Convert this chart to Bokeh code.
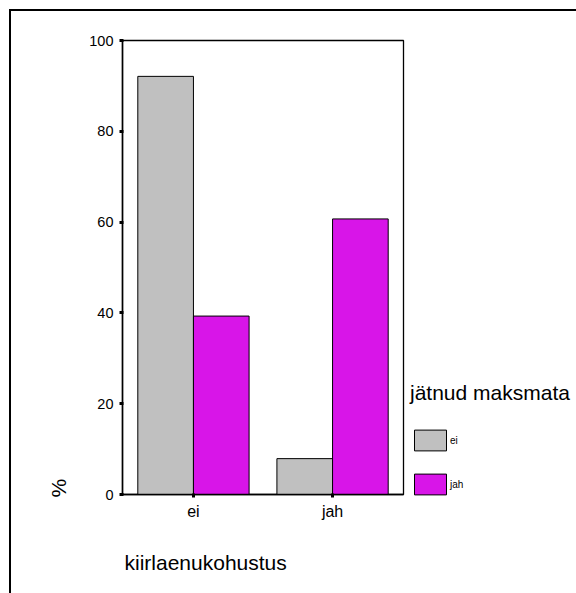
from bokeh.plotting import figure
from bokeh.models import (FactorRange, Range1d, ColumnDataSource, Legend, LegendItem,
                          FixedTicker, Title, InlineStyleSheet)
from bokeh.transform import dodge
from bokeh.embed import file_html
from bokeh.resources import INLINE

# ---- data ----
categories = ["ei", "jah"]          # kiirlaenukohustus
series_names = ["ei", "jah"]        # jätnud maksmata
values_ei = [92.1, 7.9]
values_jah = [39.3, 60.7]
y_ticks = [0, 20, 40, 60, 80, 100]

colors = ["#C0C0C0", "#D815E8"]
FONT = "Liberation Sans"

src = ColumnDataSource(dict(cat=categories, ei=values_ei, jah=values_jah))

p = figure(frame_width=281, frame_height=454, output_backend="svg", toolbar_location=None,
           x_range=FactorRange(factors=categories, range_padding=0.01),
           y_range=Range1d(0, 100),
           min_border_left=122, min_border_right=173, min_border_top=40, min_border_bottom=99)

p.background_fill_color = "white"
p.border_fill_color = "white"
p.outline_line_color = "black"
p.outline_line_width = 1.3
p.grid.visible = False

r1 = p.vbar(x=dodge("cat", -0.2, range=p.x_range), top="ei", width=0.4, source=src,
            fill_color=colors[0], line_color="black", line_width=1)
r2 = p.vbar(x=dodge("cat", 0.2, range=p.x_range), top="jah", width=0.4, source=src,
            fill_color=colors[1], line_color="black", line_width=1)

for ax in (p.xaxis[0], p.yaxis[0]):
    ax.axis_line_color = "black"
    ax.axis_line_width = 1.5
    ax.major_tick_line_color = "black"
    ax.major_tick_line_width = 3
    ax.major_tick_out = 3
    ax.major_tick_in = 1
    ax.minor_tick_line_color = None
    ax.major_label_text_font = FONT
    ax.major_label_text_color = "black"
p.yaxis[0].ticker = FixedTicker(ticks=y_ticks)
p.yaxis[0].major_label_text_font_size = "14.5px"
p.yaxis[0].major_label_standoff = 6
p.xaxis[0].major_label_text_font_size = "16px"
p.xaxis[0].major_label_standoff = 5

# axis titles placed at the start of the axes
p.add_layout(Title(text="%", align="left", text_font=FONT, text_font_size="21px",
                   text_font_style="normal", text_color="black", standoff=34, offset=-3), "left")
p.add_layout(Title(text="kiirlaenukohustus", align="left", text_font=FONT, text_color="black",
                   text_font_size="21px", text_font_style="normal", standoff=52, offset=2), "below")

legend = Legend(items=[LegendItem(label=series_names[0], renderers=[r1]),
                       LegendItem(label=series_names[1], renderers=[r2])],
                title="jätnud maksmata", title_text_font=FONT, title_text_font_size="21px",
                title_text_font_style="normal", title_text_color="black", title_standoff=22,
                location=(7, -3), orientation="vertical",
                glyph_width=40, glyph_height=26, label_standoff=0, spacing=18,
                padding=0, margin=0, border_line_color=None, background_fill_alpha=0,
                label_text_font=FONT, label_text_font_size="10px", label_text_color="black",
                label_height=26)
p.add_layout(legend, "right")

# outer frame of the chart window (top and left edges visible)
p.stylesheets = [InlineStyleSheet(css=""":host::after { content: ''; position: absolute;
  left: 9px; top: 9px; right: 0; bottom: 0;
  border-left: 2px solid #000; border-top: 2px solid #000; pointer-events: none; }""")]

open("out.html", "w").write(file_html(p, INLINE))
